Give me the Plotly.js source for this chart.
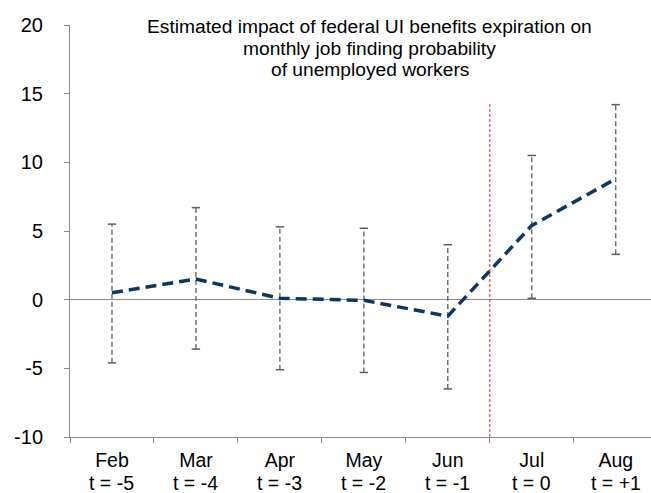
<!DOCTYPE html>
<html>
<head>
<meta charset="utf-8">
<script src="https://cdn.plot.ly/plotly-3.0.1.min.js"></script>
<style>html,body{margin:0;padding:0;background:#fff;}#chart{width:651px;height:493px;}</style>
</head>
<body>
<div id="chart"></div>
<script>
// Data
const months = ["Feb", "Mar", "Apr", "May", "Jun", "Jul", "Aug"];
const periods = ["t = -5", "t = -4", "t = -3", "t = -2", "t = -1", "t = 0", "t = +1"];
const estimate = [0.5, 1.5, 0.1, -0.05, -1.2, 5.4, 8.8];
const upper = [5.5, 6.7, 5.3, 5.2, 4.0, 10.5, 14.2];
const lower = [-4.6, -3.6, -5.1, -5.3, -6.5, 0.1, 3.3];
const eventPosition = [4.5];      // boundary between Jun and Jul
const eventRange = [-10, 14.3];
const titleLines = [
  "Estimated impact of federal UI benefits expiration on",
  "monthly job finding probability",
  "of unemployed workers"
];

// Error bar segments built from arrays
const ebX = [], ebY = [];
months.forEach((c, i) => { ebX.push(c, c, null); ebY.push(lower[i], upper[i], null); });
const capX = [], capY = [];
months.forEach((c, i) => { capX.push(c, c); capY.push(lower[i], upper[i]); });

const font = "Liberation Sans, Arial, sans-serif";

const traces = [
  {
    x: ebX, y: ebY, type: "scatter", mode: "lines",
    line: {color: "#5f5f5f", width: 1.3, dash: "5px,3px"},
    hoverinfo: "skip", showlegend: false, connectgaps: false
  },
  {
    x: capX, y: capY, type: "scatter", mode: "markers",
    marker: {symbol: "line-ew", size: 6, line: {color: "#5f5f5f", width: 1.5}},
    hoverinfo: "skip", showlegend: false
  },
  {
    x: months, y: estimate, type: "scatter", mode: "lines",
    line: {color: "#0b3763", width: 3.5, dash: "11px,6px"},
    showlegend: false
  }
];

const titleY = [0.996, 0.944, 0.892];
const annotations = titleLines.map((t, i) => ({
  text: t, xref: "paper", yref: "paper", x: 0.516, y: titleY[i],
  xanchor: "center", yanchor: "middle", showarrow: false,
  font: {family: font, size: 19.2, color: "#000"}
})).concat(periods.map((p, i) => ({
  text: p, xref: "x", yref: "paper", x: months[i], y: -0.111,
  xanchor: "center", yanchor: "middle", showarrow: false, borderpad: 0,
  font: {family: font, size: 19.5, color: "#000"}
})));

const layout = {
  width: 651, height: 493,
  margin: {l: 70, r: 0, t: 25, b: 56},
  paper_bgcolor: "#fff", plot_bgcolor: "#fff",
  font: {family: font, color: "#000", size: 19},
  xaxis: {
    type: "category",
    range: [-0.5, 6.42],
    showline: true, linecolor: "#8c8c8c", linewidth: 1,
    ticks: "outside", tickson: "boundaries", ticklen: 5, tickcolor: "#8c8c8c",
    ticklabelstandoff: 6,
    showgrid: false, zeroline: false,
    tickfont: {family: font, size: 19.5, color: "#000"}
  },
  yaxis: {
    range: [-10, 20],
    tickvals: [-10, -5, 0, 5, 10, 15, 20],
    ticktext: ["-10", "-5", "0", "5", "10", "15", "20"],
    showline: true, linecolor: "#8c8c8c", linewidth: 1,
    ticks: "outside", ticklen: 5, tickcolor: "#8c8c8c",
    ticklabelstandoff: 17,
    showgrid: false,
    zeroline: true, zerolinecolor: "#8c8c8c", zerolinewidth: 1,
    tickfont: {family: font, size: 20, color: "#000"}
  },
  annotations: annotations,
  shapes: eventPosition.map(p => ({
    type: "line", xref: "x", yref: "y",
    x0: p, x1: p, y0: eventRange[0], y1: eventRange[1],
    line: {color: "#d9262a", width: 1, dash: "3px,2px"}
  }))
};

Plotly.newPlot("chart", traces, layout, {displayModeBar: false, staticPlot: true});
</script>
</body>
</html>
